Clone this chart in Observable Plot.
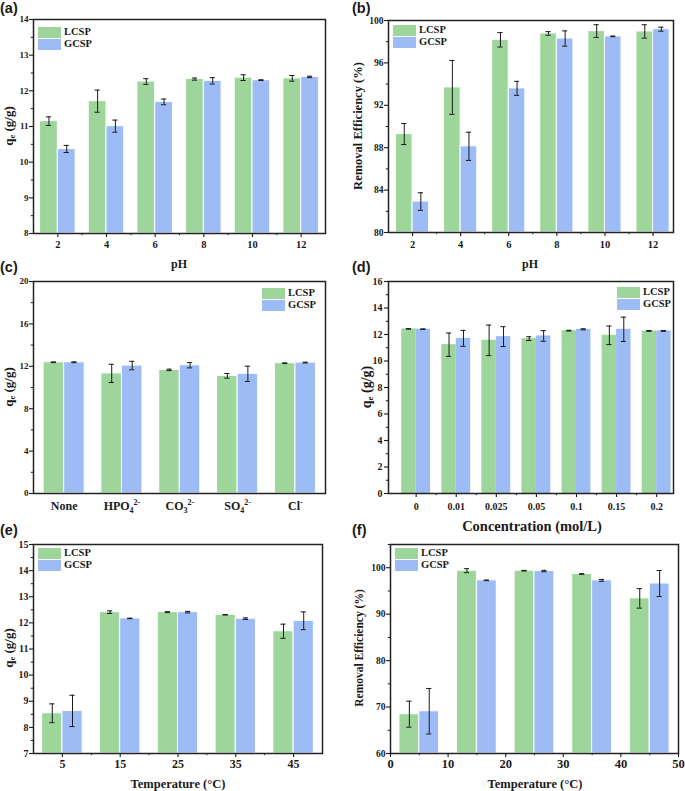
<!DOCTYPE html>
<html><head><meta charset="utf-8">
<script src="https://cdn.jsdelivr.net/npm/d3@7"></script>
<script src="https://cdn.jsdelivr.net/npm/@observablehq/plot@0.6"></script>
<style>
body{margin:0;background:#fff;}
#fig{position:relative;width:685px;height:791px;overflow:hidden;background:#fff;font-family:"Liberation Serif","Times New Roman",serif;font-weight:bold;color:#1a1a1a;}
#fig svg{position:absolute;left:0;top:0;}
.lab{position:absolute;white-space:nowrap;line-height:1.15;}
.plabel{font-family:"Liberation Sans",Arial,sans-serif;font-size:15px;font-weight:bold;}
.ytitle{transform:translate(-50%,-50%) rotate(-90deg);}
.xtitle{transform:translate(-50%,-50%);}
.leg{position:absolute;font-size:10.5px;line-height:1;}
.leg .row{display:flex;align-items:center;height:12px;}
.leg .sw{display:inline-block;width:23px;height:11px;margin-right:3px;}
sub{font-size:65%;vertical-align:-0.25em;}
</style>
</head><body>
<div id="fig"></div>
<script>
// ---------- data ----------
const series = ["LCSP", "GCSP"];
const colors = ["#9dd59a", "#9dbcf5"];

const pH = [2, 4, 6, 8, 10, 12];
const a_LCSP = [11.15, 11.71, 12.26, 12.33, 12.37, 12.35];
const a_LCSP_err = [0.12, 0.31, 0.08, 0.03, 0.08, 0.08];
const a_GCSP = [10.37, 11.01, 11.69, 12.28, 12.30, 12.39];
const a_GCSP_err = [0.10, 0.17, 0.08, 0.09, 0.01, 0.02];

const b_LCSP = [89.29, 93.69, 98.18, 98.78, 99.0, 98.97];
const b_LCSP_err = [0.99, 2.54, 0.68, 0.17, 0.6, 0.63];
const b_GCSP = [82.92, 88.13, 93.6, 98.3, 98.5, 99.18];
const b_GCSP_err = [0.83, 1.33, 0.66, 0.72, 0.03, 0.19];

const anions = ["None", "HPO_4^2-", "CO_3^2-", "SO_4^2-", "Cl^-"];
const c_LCSP = [12.38, 11.33, 11.66, 11.1, 12.29];
const c_LCSP_err = [0.03, 0.86, 0.07, 0.22, 0.03];
const c_GCSP = [12.38, 12.07, 12.1, 11.29, 12.35];
const c_GCSP_err = [0.04, 0.4, 0.25, 0.72, 0.04];

const conc = ["0", "0.01", "0.025", "0.05", "0.1", "0.15", "0.2"];
const d_LCSP = [12.42, 11.23, 11.56, 11.69, 12.29, 11.94, 12.27];
const d_LCSP_err = [0.02, 0.88, 1.15, 0.14, 0.03, 0.7, 0.03];
const d_GCSP = [12.4, 11.71, 11.84, 11.89, 12.39, 12.39, 12.27];
const d_GCSP_err = [0.02, 0.6, 0.75, 0.4, 0.04, 0.92, 0.03];

const temp = [5, 15, 25, 35, 45];
const e_LCSP = [8.54, 12.41, 12.41, 12.31, 11.68];
const e_LCSP_err = [0.36, 0.05, 0.02, 0.01, 0.27];
const e_GCSP = [8.63, 12.17, 12.41, 12.16, 12.08];
const e_GCSP_err = [0.6, 0.01, 0.03, 0.03, 0.34];

const f_LCSP = [68.46, 99.36, 99.36, 98.64, 93.4];
const f_LCSP_err = [2.8, 0.43, 0.07, 0.07, 2.1];
const f_GCSP = [69.1, 97.28, 99.28, 97.28, 96.6];
const f_GCSP_err = [4.9, 0.07, 0.15, 0.2, 2.8];

// ---------- helpers ----------
const W = 685, H = 791;
const fig = document.getElementById("fig");
const range = (a, b, s) => d3.range(a, b + 1e-9, s).map(v => +v.toFixed(4));
const num = d => String(+(+d).toFixed(4));

function addText(cls, html, x, y, size) {
  const d = document.createElement("div");
  d.className = "lab " + cls;
  d.innerHTML = html;
  d.style.left = x + "px"; d.style.top = y + "px";
  if (size) d.style.fontSize = size + "px";
  fig.appendChild(d);
}
function addLegend(x, y) {
  const d = document.createElement("div");
  d.className = "leg"; d.style.left = x + "px"; d.style.top = y + "px";
  series.forEach((s, i) => {
    const r = document.createElement("div"); r.className = "row";
    r.innerHTML = `<span class="sw" style="background:${colors[i]}"></span><span>${s}</span>`;
    d.appendChild(r);
  });
  fig.appendChild(d);
}
function subsup(svg) {
  svg.querySelectorAll("text").forEach(t => {
    const s = t.textContent;
    if (!/[_^]/.test(s)) return;
    const m = s.match(/^([^_^]+)(?:_([^^]+))?(?:\^(.+))?$/);
    if (!m) return;
    t.textContent = "";
    const ns = "http://www.w3.org/2000/svg";
    const base = document.createElementNS(ns, "tspan"); base.textContent = m[1]; t.appendChild(base);
    if (m[2]) { const sb = document.createElementNS(ns, "tspan"); sb.textContent = m[2]; sb.setAttribute("dy", "3"); sb.setAttribute("font-size", "8"); t.appendChild(sb); }
    if (m[3]) { const sp = document.createElementNS(ns, "tspan"); sp.textContent = m[3]; sp.setAttribute("dy", m[2] ? "-8" : "-5"); sp.setAttribute("font-size", "8"); t.appendChild(sp); }
  });
}

function panel(cfg) {
  const [x0, y0, x1, y1] = cfg.frame;
  const rows = [];
  cfg.pos.forEach((p, i) => {
    rows.push({s: "LCSP", a: p - cfg.half, b: p, v: cfg.L[i], e: cfg.Le[i]});
    rows.push({s: "GCSP", a: p, b: p + cfg.half, v: cfg.G[i], e: cfg.Ge[i]});
  });
  const cap = 2.6 * (cfg.xDomain[1] - cfg.xDomain[0]) / (x1 - x0);
  const cx = d => (d.a + d.b) / 2;
  const ink = "#1a1a1a";
  const marks = [
    Plot.rect(rows, {x1: "a", x2: "b", y1: cfg.yDomain[0], y2: "v", fill: "s",
      stroke: cfg.gap ? "white" : "none", strokeWidth: 1}),
    Plot.ruleX(rows, {x: cx, y1: d => d.v - d.e, y2: d => d.v + d.e, stroke: ink, strokeWidth: 1}),
    Plot.ruleY(rows, {x1: d => cx(d) - cap, x2: d => cx(d) + cap, y: d => d.v + d.e, stroke: ink, strokeWidth: 1}),
    Plot.ruleY(rows, {x1: d => cx(d) - cap, x2: d => cx(d) + cap, y: d => d.v - d.e, stroke: ink, strokeWidth: 1}),
    Plot.axisX({ticks: cfg.xTicks, tickSize: cfg.xTickSize ?? 4, tickPadding: cfg.xPad, tickFormat: cfg.xFormat,
      fontSize: cfg.xFont, label: null, anchor: "bottom", strokeWidth: 1.1}),
    Plot.axisY({ticks: cfg.yTicks, tickSize: 4, tickPadding: cfg.yPad ?? 1, tickFormat: num, fontSize: cfg.yFont, label: null,
      anchor: "left", strokeWidth: 1.1}),
    Plot.axisY({ticks: cfg.yMinor, tickSize: 2.2, tickFormat: () => "", label: null, anchor: "left", strokeWidth: 1})
  ];
  if (cfg.xMinor) marks.push(Plot.axisX({ticks: cfg.xMinor, tickSize: 2.2, tickFormat: () => "", label: null, anchor: "bottom", strokeWidth: 1}));
  marks.push(Plot.frame({stroke: "#222", strokeWidth: 1.5}));
  const svg = Plot.plot({
    width: W, height: H,
    marginLeft: x0, marginTop: y0, marginRight: W - x1, marginBottom: H - y1,
    x: {type: "linear", domain: cfg.xDomain},
    y: {type: "linear", domain: cfg.yDomain},
    color: {domain: series, range: colors},
    style: {background: "transparent", fontFamily: "'Liberation Serif','Times New Roman',serif", fontWeight: "bold", color: ink, overflow: "visible"},
    marks
  });
  subsup(svg);
  fig.appendChild(svg);
}

// ---------- panels ----------
panel({frame: [33, 19, 325, 233], xDomain: [1, 13], yDomain: [8, 14], pos: pH, half: 0.73, gap: true,
  L: a_LCSP, Le: a_LCSP_err, G: a_GCSP, Ge: a_GCSP_err,
  xTicks: pH, xMinor: [3, 5, 7, 9, 11], xFormat: num, xFont: 10.5, xPad: 3,
  yTicks: range(8, 14, 1), yMinor: range(8.5, 13.5, 1), yFont: 9});

panel({frame: [388, 20, 673, 232], xDomain: [1, 12.85], yDomain: [80, 100], pos: pH, half: 0.69, gap: true,
  L: b_LCSP, Le: b_LCSP_err, G: b_GCSP, Ge: b_GCSP_err,
  xTicks: pH, xMinor: [3, 5, 7, 9, 11], xFormat: num, xFont: 10.5, xPad: 4,
  yTicks: range(80, 100, 4), yMinor: range(82, 98, 4), yFont: 9.5});

panel({frame: [33, 281, 325, 493], xDomain: [0.47, 5.52], yDomain: [0, 20], pos: [1, 2, 3, 4, 5], half: 0.355, gap: true,
  L: c_LCSP, Le: c_LCSP_err, G: c_GCSP, Ge: c_GCSP_err,
  xTicks: [1, 2, 3, 4, 5], xTickSize: 0, xFormat: i => anions[i - 1], xFont: 12, xPad: 8,
  yTicks: range(0, 20, 4), yMinor: range(2, 18, 4), yFont: 9});

panel({frame: [388, 281, 673, 493], xDomain: [0.31, 7.42], yDomain: [0, 16], pos: [1, 2, 3, 4, 5, 6, 7], half: 0.36, gap: false,
  L: d_LCSP, Le: d_LCSP_err, G: d_GCSP, Ge: d_GCSP_err,
  xTicks: [1, 2, 3, 4, 5, 6, 7], xMinor: [1.5, 2.5, 3.5, 4.5, 5.5, 6.5], xFormat: i => conc[i - 1], xFont: 10, xPad: 5,
  yTicks: range(0, 16, 2), yMinor: range(1, 15, 2), yFont: 10, yPad: 2});

panel({frame: [33, 544, 322, 753], xDomain: [0, 50], yDomain: [7, 15], pos: temp, half: 3.5, gap: true,
  L: e_LCSP, Le: e_LCSP_err, G: e_GCSP, Ge: e_GCSP_err,
  xTicks: temp, xMinor: [10, 20, 30, 40], xFormat: num, xFont: 12, xPad: 2,
  yTicks: range(7, 15, 1), yMinor: range(7.5, 14.5, 1), yFont: 10});

panel({frame: [390, 544, 678, 753], xDomain: [0, 50], yDomain: [60, 105], pos: temp, half: 3.45, gap: true,
  L: f_LCSP, Le: f_LCSP_err, G: f_GCSP, Ge: f_GCSP_err,
  xTicks: range(0, 50, 10), xMinor: range(5, 45, 10), xFormat: num, xFont: 12.5, xPad: 2,
  yTicks: range(60, 100, 10), yMinor: range(65, 105, 10), yFont: 9.5});

// ---------- titles, legends, panel labels ----------
const qe = "q<sub>e</sub> (g/g)";
addText("ytitle", qe, 10, 126, 13);
addText("ytitle", "Removal Efficiency (%)", 358, 126, 12.5);
addText("ytitle", qe, 10, 387, 13);
addText("ytitle", qe, 367, 387, 14);
addText("ytitle", qe, 10, 648, 13);
addText("ytitle", "Removal Efficiency (%)", 360, 648, 11.5);

addText("xtitle", "pH", 179, 265, 12);
addText("xtitle", "pH", 530, 265, 12);
addText("xtitle", "Concentration (mol/L)", 532, 526, 14.5);
addText("xtitle", "Temperature (°C)", 178, 784, 12.5);
addText("xtitle", "Temperature (°C)", 535, 784, 12.5);

addLegend(38, 26);
addLegend(393, 24);
addLegend(262, 287);
addLegend(617, 286);
addLegend(38, 547);
addLegend(395, 547);

addText("plabel", "(a)", 0, 0, 14.5);
addText("plabel", "(b)", 352, 0, 14.5);
addText("plabel", "(c)", 0, 259, 14.5);
addText("plabel", "(d)", 352, 259, 14.5);
addText("plabel", "(e)", 0, 522, 14.5);
addText("plabel", "(f)", 352, 522, 14.5);
</script>
</body></html>
